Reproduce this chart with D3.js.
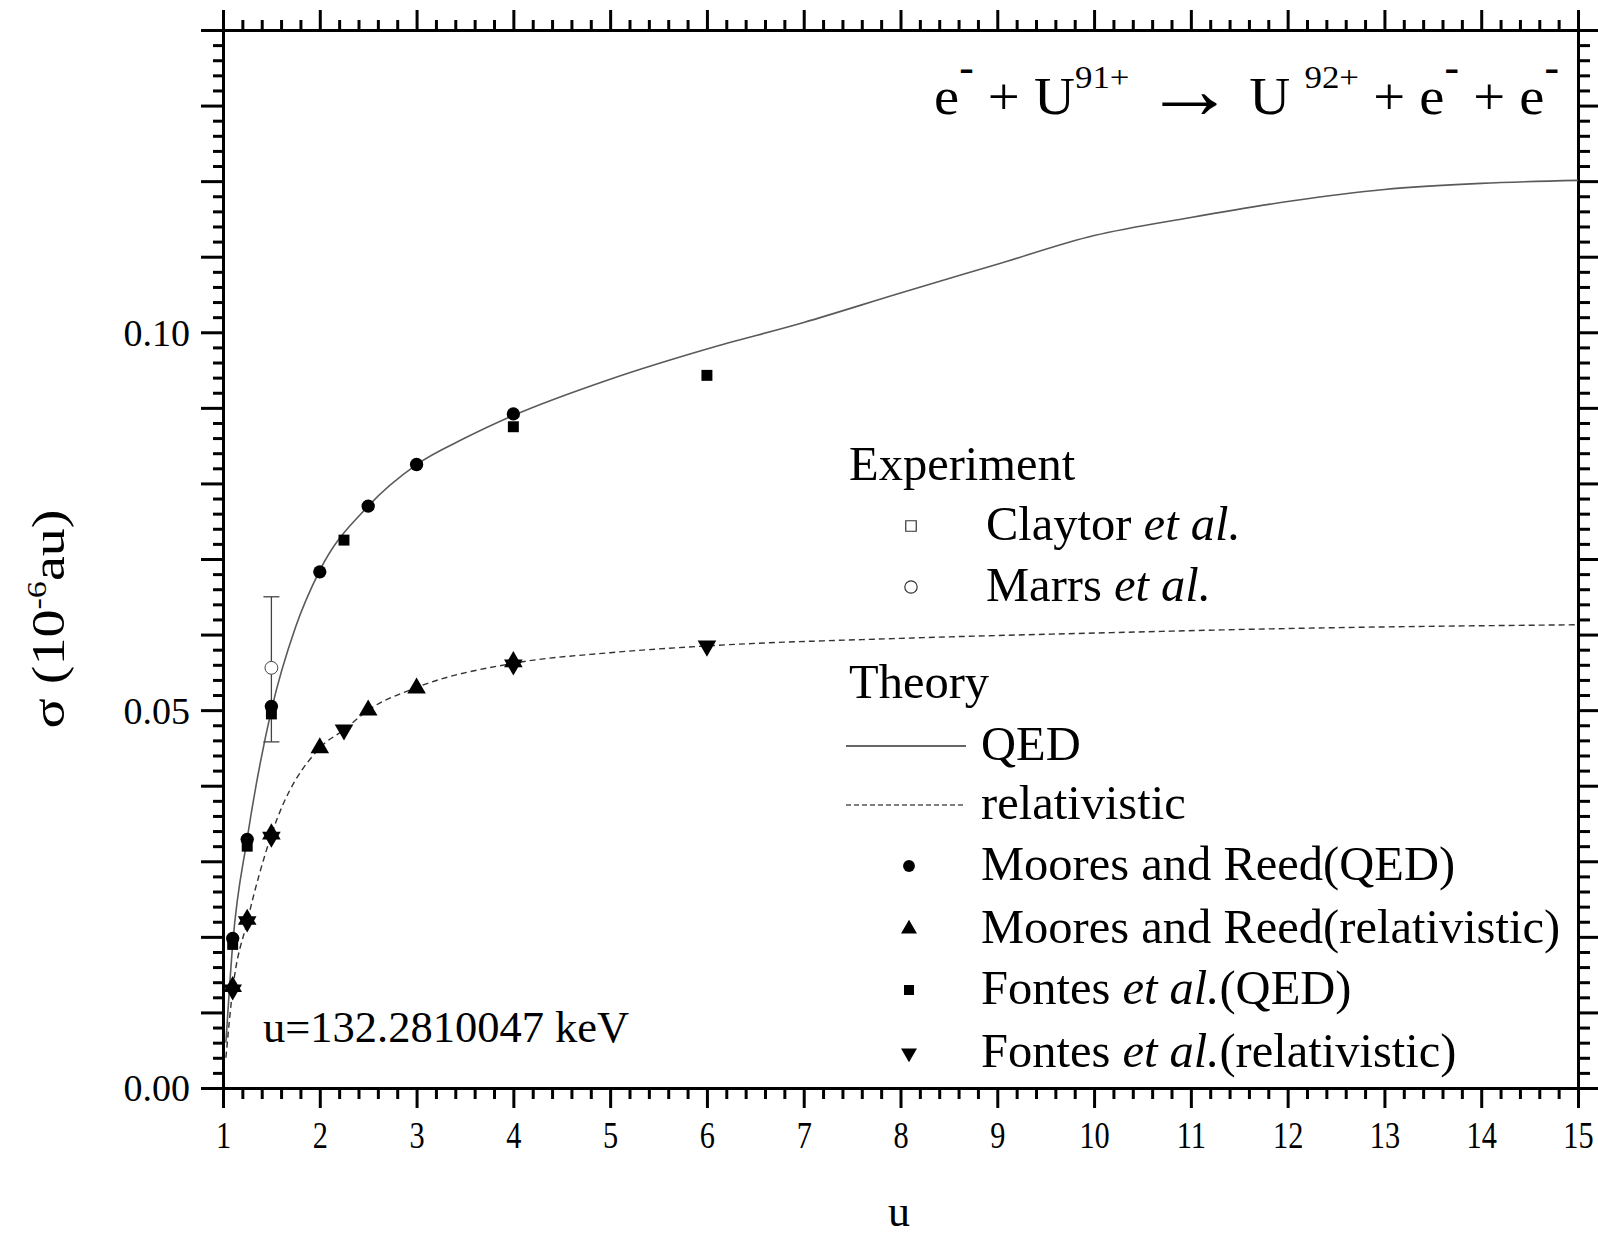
<!DOCTYPE html>
<html>
<head>
<meta charset="utf-8">
<script src="https://cdn.jsdelivr.net/npm/d3@7"></script>
<style>
    body { margin: 0; background: #fff; }
    text { font-family: "Liberation Serif", "Times New Roman", serif; fill: #000; }
</style>
</head>
<body>
<div id="chart"></div>
<script>
// Theory curves
var qedU   = [1.03, 1.1, 1.25, 1.5, 1.75, 2, 2.5, 3, 3.5, 4, 5, 6, 7, 8, 9, 10, 11, 12, 13, 14, 15];
var qedSig = [0.006, 0.019, 0.033, 0.050, 0.061, 0.0685, 0.077, 0.0825, 0.086, 0.089, 0.0938, 0.0978, 0.1013, 0.1052, 0.1090, 0.1128, 0.1152, 0.1173, 0.1189, 0.1197, 0.1201];
var relU   = [1.03, 1.1, 1.25, 1.5, 2, 2.25, 2.5, 3, 4, 5, 6, 8, 10, 12, 15];
var relSig = [0.004, 0.013, 0.022, 0.0335, 0.045, 0.0474, 0.050, 0.053, 0.0562, 0.0576, 0.0585, 0.0595, 0.0602, 0.0608, 0.0613];

// Moores and Reed
var mrQedU   = [1.1, 1.25, 1.5, 2, 2.5, 3, 4];
var mrQedSig = [0.0198, 0.0329, 0.0505, 0.0683, 0.0770, 0.0825, 0.0892];
var mrRelU   = [1.1, 1.25, 1.5, 2, 2.5, 3, 4];
var mrRelSig = [0.0134, 0.0223, 0.0336, 0.0450, 0.0500, 0.0529, 0.0564];

// Fontes et al.
var fQedU   = [1.1, 1.25, 1.5, 2.25, 4, 6];
var fQedSig = [0.0190, 0.0320, 0.0495, 0.0725, 0.0875, 0.0943];
var fRelU   = [1.1, 1.25, 1.5, 2.25, 4, 6];
var fRelSig = [0.0130, 0.0220, 0.0332, 0.0474, 0.0560, 0.0585];

// Marrs et al. (with error bar)
var marrsU = [1.5];
var marrsSig = [0.0556];
var marrsLo = [0.0458];
var marrsHi = [0.0650];

// Axis ticks
var xMajor = d3.range(1, 16);
var xMinor = d3.range(1, 15.001, 0.2).filter(function (d, i) { return i % 5 !== 0; });
var yMajor = d3.range(0, 0.14001, 0.01);
var yMinor = d3.range(0, 0.14001, 0.002).filter(function (d, i) { return i % 5 !== 0; });
var yLabels = ["0.00", "", "", "", "", "0.05", "", "", "", "", "0.10", "", "", "", ""];

// Legend entries
var legendRows = [
    { type: "head", text: "Experiment", y: 480 },
    { type: "openSquare", text: "Claytor", ital: "et al.", rest: "", y: 540 },
    { type: "openCircle", text: "Marrs", ital: "et al.", rest: "", y: 601 },
    { type: "head", text: "Theory", y: 698 },
    { type: "solid", text: "QED", y: 760 },
    { type: "dashed", text: "relativistic", y: 819 },
    { type: "circle", text: "Moores and Reed(QED)", y: 880 },
    { type: "up", text: "Moores and Reed(relativistic)", y: 943 },
    { type: "square", text: "Fontes", ital: "et al.", rest: "(QED)", y: 1004 },
    { type: "down", text: "Fontes", ital: "et al.", rest: "(relativistic)", y: 1067 }
];

var W = 1598, H = 1235;
var svg = d3.select("#chart")
    .append("svg")
    .attr("width", W)
    .attr("height", H);

var x = d3.scaleLinear().domain([1, 15]).range([223, 1578]);
var y = d3.scaleLinear().domain([0, 0.14]).range([1088, 30]);

// helper for axis styling
function styleAxis(g, w) {
    g.select(".domain").attr("stroke", "#000").attr("stroke-width", 3);
    g.selectAll(".tick line").attr("stroke", "#000").attr("stroke-width", w);
}

// bottom axis
var gb = svg.append("g").attr("transform", "translate(0,1088)")
    .call(d3.axisBottom(x).tickValues(xMajor).tickSize(20).tickSizeOuter(0).tickPadding(14).tickFormat(d3.format("d")));
styleAxis(gb, 3);
gb.selectAll("text").attr("font-size", 37).attr("font-family", "Liberation Serif")
    .attr("transform", "scale(0.82,1)").attr("dy", "0.71em");
var gb2 = svg.append("g").attr("transform", "translate(0,1088)")
    .call(d3.axisBottom(x).tickValues(xMinor).tickSize(11).tickSizeOuter(0).tickFormat(""));
styleAxis(gb2, 3);

// top axis
var gt = svg.append("g").attr("transform", "translate(0,30)")
    .call(d3.axisTop(x).tickValues(xMajor).tickSize(20).tickSizeOuter(0).tickFormat(""));
styleAxis(gt, 3);
var gt2 = svg.append("g").attr("transform", "translate(0,30)")
    .call(d3.axisTop(x).tickValues(xMinor).tickSize(10).tickSizeOuter(0).tickFormat(""));
styleAxis(gt2, 3);

// left axis
var gl = svg.append("g").attr("transform", "translate(223,0)")
    .call(d3.axisLeft(y).tickValues(yMajor).tickSize(22).tickSizeOuter(0).tickPadding(11)
        .tickFormat(function (d, i) { return yLabels[i]; }));
styleAxis(gl, 3);
gl.selectAll("text").attr("font-size", 38).attr("font-family", "Liberation Serif")
    .attr("dy", "0.34em");
var gl2 = svg.append("g").attr("transform", "translate(223,0)")
    .call(d3.axisLeft(y).tickValues(yMinor).tickSize(10).tickSizeOuter(0).tickFormat(""));
styleAxis(gl2, 3);

// right axis
var gr = svg.append("g").attr("transform", "translate(1578,0)")
    .call(d3.axisRight(y).tickValues(yMajor).tickSize(20).tickSizeOuter(0).tickFormat(""));
styleAxis(gr, 3);
var gr2 = svg.append("g").attr("transform", "translate(1578,0)")
    .call(d3.axisRight(y).tickValues(yMinor).tickSize(12).tickSizeOuter(0).tickFormat(""));
styleAxis(gr2, 3);

// Curves
var line = d3.line()
    .x(function (d) { return x(d[0]); })
    .y(function (d) { return y(d[1]); })
    .curve(d3.curveMonotoneX);

svg.append("path")
    .datum(d3.zip(qedU, qedSig))
    .attr("d", line)
    .attr("fill", "none")
    .attr("stroke", "#5a5a5a")
    .attr("stroke-width", 1.6);

svg.append("path")
    .datum(d3.zip(relU, relSig))
    .attr("d", line)
    .attr("fill", "none")
    .attr("stroke", "#333")
    .attr("stroke-width", 1.4)
    .attr("stroke-dasharray", "6,4");

// Error bar for Marrs
var eb = svg.append("g").attr("stroke", "#444").attr("stroke-width", 1.3);
marrsU.forEach(function (u, i) {
    eb.append("line").attr("x1", x(u)).attr("x2", x(u)).attr("y1", y(marrsLo[i])).attr("y2", y(marrsHi[i]));
    eb.append("line").attr("x1", x(u) - 8).attr("x2", x(u) + 8).attr("y1", y(marrsLo[i])).attr("y2", y(marrsLo[i]));
    eb.append("line").attr("x1", x(u) - 8).attr("x2", x(u) + 8).attr("y1", y(marrsHi[i])).attr("y2", y(marrsHi[i]));
});

// Symbols
var symCircle = d3.symbol().type(d3.symbolCircle).size(140);
var symSquare = d3.symbol().type(d3.symbolSquare).size(120);
var symTri = d3.symbol().type(d3.symbolTriangle).size(150);

function drawPoints(us, sigs, sym, rot, fill, stroke) {
    svg.append("g").selectAll("path")
        .data(d3.zip(us, sigs))
        .enter()
        .append("path")
        .attr("d", sym)
        .attr("transform", function (d) { return "translate(" + x(d[0]) + "," + y(d[1]) + ")" + (rot ? " rotate(180)" : ""); })
        .attr("fill", fill)
        .attr("stroke", stroke)
        .attr("stroke-width", 1);
}

drawPoints(fRelU, fRelSig, symTri, true, "#000", "none");
drawPoints(mrRelU, mrRelSig, symTri, false, "#000", "none");
drawPoints(fQedU, fQedSig, symSquare, false, "#000", "none");
drawPoints(mrQedU, mrQedSig, symCircle, false, "#000", "none");
drawPoints(marrsU, marrsSig, d3.symbol().type(d3.symbolCircle).size(130), false, "#fff", "#444");

// Title
var title = svg.append("text")
    .attr("x", 934)
    .attr("y", 114)
    .attr("font-size", 52)
    .attr("textLength", 625)
    .attr("lengthAdjust", "spacingAndGlyphs");
title.append("tspan").text("e");
title.append("tspan").attr("dy", -33).attr("font-size", 40).attr("font-weight", "bold").text("-");
title.append("tspan").attr("dy", 33).text(" + U");
title.append("tspan").attr("dy", -26).attr("font-size", 32).text("91+");
title.append("tspan").attr("dy", 26).text(" ");
title.append("tspan").attr("font-size", 84).attr("dy", 4).text("\u2192");
title.append("tspan").attr("dy", -4).text(" U ");
title.append("tspan").attr("dy", -26).attr("font-size", 32).text("92+");
title.append("tspan").attr("dy", 26).text(" + e");
title.append("tspan").attr("dy", -33).attr("font-size", 40).attr("font-weight", "bold").text("-");
title.append("tspan").attr("dy", 33).text(" + e");
title.append("tspan").attr("dy", -33).attr("font-size", 40).attr("font-weight", "bold").text("-");

// Axis titles
var ylab = svg.append("text")
    .attr("transform", "translate(64,619) rotate(-90)")
    .attr("text-anchor", "middle")
    .attr("font-size", 46)
    .attr("textLength", 219)
    .attr("lengthAdjust", "spacingAndGlyphs");
ylab.append("tspan").text("\u03c3 (10");
ylab.append("tspan").attr("dy", -18).attr("font-size", 28).text("-6");
ylab.append("tspan").attr("dy", 18).text("au)");

svg.append("text")
    .attr("x", 899)
    .attr("y", 1226)
    .attr("text-anchor", "middle")
    .attr("font-size", 44)
    .text("u");

// energy note
svg.append("text")
    .attr("x", 263)
    .attr("y", 1042)
    .attr("font-size", 44.5)
    .text("u=132.2810047 keV");

// Legend
var leg = svg.append("g");
legendRows.forEach(function (r) {
    var my = r.y - 14;
    if (r.type === "head") {
        leg.append("text").attr("x", 849).attr("y", r.y).attr("font-size", 48.5).text(r.text);
        return;
    }
    var tx = (r.type === "openSquare" || r.type === "openCircle") ? 986 : 981;
    if (r.type === "solid" || r.type === "dashed") {
        leg.append("line").attr("x1", 846).attr("x2", 966).attr("y1", my).attr("y2", my)
            .attr("stroke", r.type === "solid" ? "#333" : "#555")
            .attr("stroke-width", 1.3)
            .attr("stroke-dasharray", r.type === "dashed" ? "5,3" : null);
    } else {
        var mx = (r.type === "openSquare" || r.type === "openCircle") ? 911 : 909;
        var s, rot = false, fill = "#000", stroke = "none";
        if (r.type === "openSquare") { s = d3.symbol().type(d3.symbolSquare).size(110); fill = "#fff"; stroke = "#333"; }
        if (r.type === "openCircle") { s = d3.symbol().type(d3.symbolCircle).size(120); fill = "#fff"; stroke = "#333"; }
        if (r.type === "circle") s = d3.symbol().type(d3.symbolCircle).size(110);
        if (r.type === "square") s = d3.symbol().type(d3.symbolSquare).size(100);
        if (r.type === "up") s = d3.symbol().type(d3.symbolTriangle).size(110);
        if (r.type === "down") { s = d3.symbol().type(d3.symbolTriangle).size(110); rot = true; }
        leg.append("path").attr("d", s)
            .attr("transform", "translate(" + mx + "," + my + ")" + (rot ? " rotate(180)" : ""))
            .attr("fill", fill).attr("stroke", stroke).attr("stroke-width", 1.2);
    }
    var t = leg.append("text").attr("x", tx).attr("y", r.y).attr("font-size", 48.5);
    t.append("tspan").text(r.text);
    if (r.ital) {
        t.append("tspan").text(" ");
        t.append("tspan").attr("font-style", "italic").text(r.ital);
        if (r.rest) t.append("tspan").text(r.rest);
    }
});
</script>
</body>
</html>
